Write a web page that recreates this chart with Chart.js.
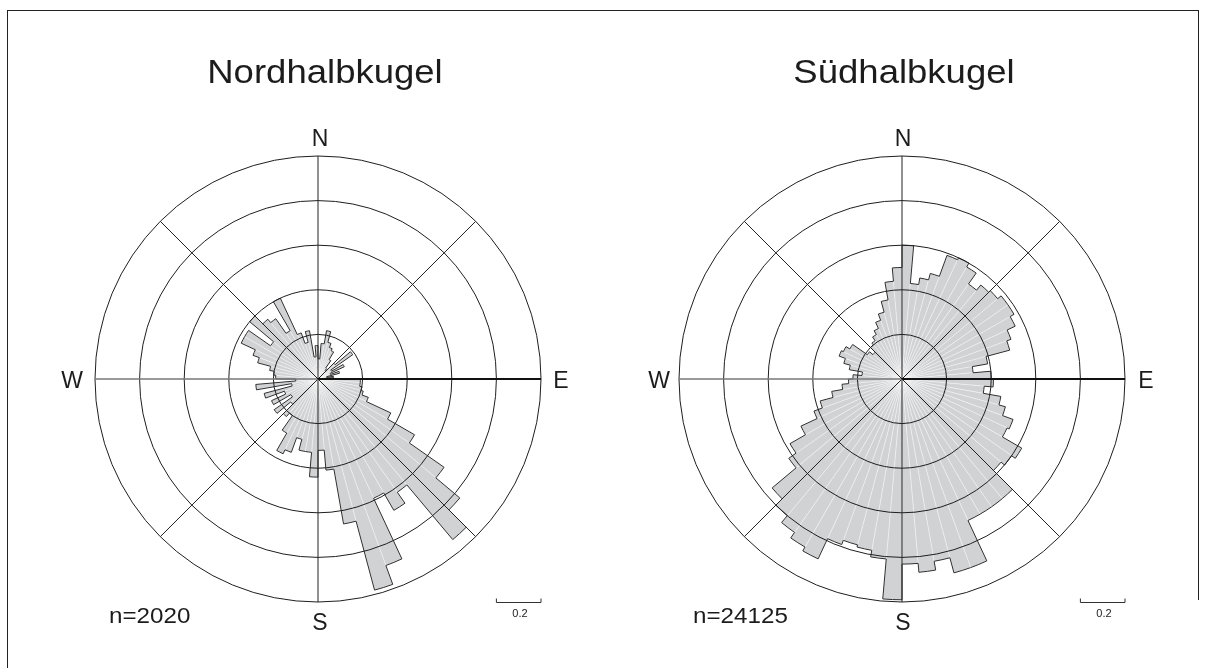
<!DOCTYPE html>
<html lang="de">
<head>
<meta charset="UTF-8" />
<title>Richtungsrosen Nord- und Südhalbkugel</title>
<script src="https://cdn.jsdelivr.net/npm/chart.js"></script>
<style>
  html, body { margin: 0; padding: 0; background: #fff; }
  body {
    width: 1206px; height: 668px;
    position: relative; overflow: hidden;
    font-family: 'Liberation Sans', Arial, Helvetica, sans-serif;
    color: #1c1c1c;
  }
  .line { position: absolute; background: #222; }
  canvas { position: absolute; top: 0; }
  #north { left: 0; }
  #south { left: 603px; }
  .lbl {
    position: absolute;
    line-height: 1;
    white-space: nowrap;
    transform: translate(-50%, -50%);
  }
  .title { font-size: 33.5px; transform: translate(-50%, -50%) scaleX(1.09); }
  .dir { font-size: 23px; }
  .count { font-size: 22px; transform-origin: 0 50%; transform: translate(0, -50%) scaleX(1.1); }
  .bar { font-size: 11px; }
</style>
</head>
<body>
  <div class="line" style="left:7px; top:10px; width:1192px; height:1px;"></div>
  <div class="line" style="left:7px; top:10px; width:1px; height:660px;"></div>
  <div class="line" style="left:1198px; top:10px; width:1px; height:590px;"></div>

  <canvas id="north" width="603" height="668"></canvas>
  <canvas id="south" width="603" height="668"></canvas>

  <div class="lbl title" style="left:325px; top:72px;">Nordhalbkugel</div>
  <div class="lbl title" style="left:904px; top:72px;">Südhalbkugel</div>

  <div class="lbl dir" style="left:320px; top:138px;">N</div>
  <div class="lbl dir" style="left:320px; top:622px;">S</div>
  <div class="lbl dir" style="left:72px; top:380px;">W</div>
  <div class="lbl dir" style="left:561px; top:380px;">E</div>

  <div class="lbl dir" style="left:903px; top:138px;">N</div>
  <div class="lbl dir" style="left:903px; top:622px;">S</div>
  <div class="lbl dir" style="left:659px; top:380px;">W</div>
  <div class="lbl dir" style="left:1146px; top:380px;">E</div>

  <div class="lbl count" style="left:109px; top:616px;">n=2020</div>
  <div class="lbl count" style="left:693px; top:616px;">n=24125</div>

  <div class="lbl bar" style="left:520px; top:613px;">0.2</div>
  <div class="lbl bar" style="left:1104px; top:613px;">0.2</div>

<script>
  // 5°-Klassen, im Uhrzeigersinn ab Nord
  const sectors = Array.from({ length: 72 }, (_, i) => i * 5 + '°');

  // relative Häufigkeit je Klasse (Skalenbalken = 0.2)
  const northValues = [
    0.09, 0.16, 0.22, 0.17, 0.15, 0.14, 0.10, 0.06, 0.05, 0.10, 0.19, 0.07,
    0.13, 0.06, 0.10, 0.04, 0.07, 0.03, 0.19, 0.19, 0.20, 0.21, 0.24, 0.36,
    0.50, 0.69, 0.83, 0.94, 0.62, 0.68, 0.59, 0.89, 0.98, 0.66, 0.41, 0.32,
    0.44, 0.33, 0.33, 0.28, 0.35, 0.37, 0.28, 0.20, 0.22, 0.16, 0.24, 0.14,
    0.23, 0.16, 0.25, 0.12, 0.28, 0.10, 0.19, 0.20, 0.22, 0.28, 0.31, 0.38,
    0.38, 0.26, 0.40, 0.35, 0.33, 0.25, 0.40, 0.22, 0.17, 0.22, 0.10, 0.15
  ];
  const southValues = [
    0.60, 0.43, 0.46, 0.49, 0.59, 0.60, 0.58, 0.52, 0.55, 0.56, 0.58, 0.58,
    0.56, 0.52, 0.50, 0.39, 0.32, 0.40, 0.41, 0.37, 0.45, 0.48, 0.53, 0.52,
    0.62, 0.60, 0.58, 0.70, 0.70, 0.70, 0.70, 0.90, 0.90, 0.83, 0.87, 0.83,
    0.99, 0.81, 0.78, 0.77, 0.79, 0.89, 0.87, 0.84, 0.80, 0.76, 0.62, 0.58,
    0.50, 0.42, 0.38, 0.32, 0.27, 0.24, 0.22, 0.18, 0.24, 0.27, 0.30, 0.29,
    0.27, 0.19, 0.17, 0.20, 0.21, 0.23, 0.25, 0.28, 0.31, 0.36, 0.44, 0.50
  ];

  const ringStep = 0.2;

  // Umriss, Himmelsrichtungen und Massstab
  const roseDecor = {
    id: 'roseDecor',
    afterDatasetsDraw(chart) {
      const arcs = chart.getDatasetMeta(0).data;
      const ctx = chart.ctx;
      const cx = arcs[0].x, cy = arcs[0].y;
      ctx.save();
      ctx.beginPath();
      arcs.forEach((a, i) => {
        const px = cx + a.outerRadius * Math.cos(a.startAngle);
        const py = cy + a.outerRadius * Math.sin(a.startAngle);
        if (i === 0) ctx.moveTo(px, py);
        else ctx.lineTo(px, py);
        ctx.arc(cx, cy, a.outerRadius, a.startAngle, a.endAngle);
      });
      ctx.closePath();
      ctx.strokeStyle = '#2e2e2e';
      ctx.lineWidth = 1;
      ctx.stroke();
      ctx.restore();
    },
    afterDraw(chart) {
      const s = chart.scales.r;
      const ctx = chart.ctx;
      const cx = s.xCenter, cy = s.yCenter, R = s.drawingArea;
      ctx.save();
      for (let k = 0; k < 8; k++) {
        const ang = -Math.PI / 2 + k * Math.PI / 4;
        ctx.beginPath();
        ctx.moveTo(cx, cy);
        ctx.lineTo(cx + R * Math.cos(ang), cy + R * Math.sin(ang));
        if (k === 2) { ctx.strokeStyle = '#111'; ctx.lineWidth = 2.2; }
        else if (k === 6) { ctx.strokeStyle = '#777'; ctx.lineWidth = 1.3; }
        else { ctx.strokeStyle = '#222'; ctx.lineWidth = 1; }
        ctx.stroke();
      }
      // Massstab 0.2
      const len = s.getDistanceFromCenterForValue(ringStep);
      const y = cy + R + 0.5;
      ctx.beginPath();
      ctx.moveTo(cx + R - len, y - 4);
      ctx.lineTo(cx + R - len, y);
      ctx.lineTo(cx + R, y);
      ctx.lineTo(cx + R, y - 4);
      ctx.strokeStyle = '#333';
      ctx.lineWidth = 1;
      ctx.stroke();
      ctx.restore();
    }
  };

  function makeRose(id, values, padding) {
    return new Chart(document.getElementById(id), {
      type: 'polarArea',
      data: {
        labels: sectors,
        datasets: [{
          data: values,
          backgroundColor: '#d1d2d4',
          borderColor: 'rgba(255,255,255,0.6)',
          borderWidth: 0.6
        }]
      },
      options: {
        responsive: false,
        animation: false,
        events: [],
        layout: { padding: padding },
        plugins: {
          legend: { display: false },
          tooltip: { enabled: false }
        },
        scales: {
          r: {
            min: 0,
            max: 1,
            ticks: { display: false, stepSize: ringStep },
            grid: { circular: true, color: '#1e1e1e', lineWidth: 1, z: 1 },
            angleLines: { display: false },
            pointLabels: { display: false }
          }
        }
      },
      plugins: [roseDecor]
    });
  }

  makeRose('north', northValues, { left: 95, right: 62, top: 156, bottom: 66 });
  makeRose('south', southValues, { left: 76, right: 81, top: 156, bottom: 66 });
</script>
</body>
</html>
